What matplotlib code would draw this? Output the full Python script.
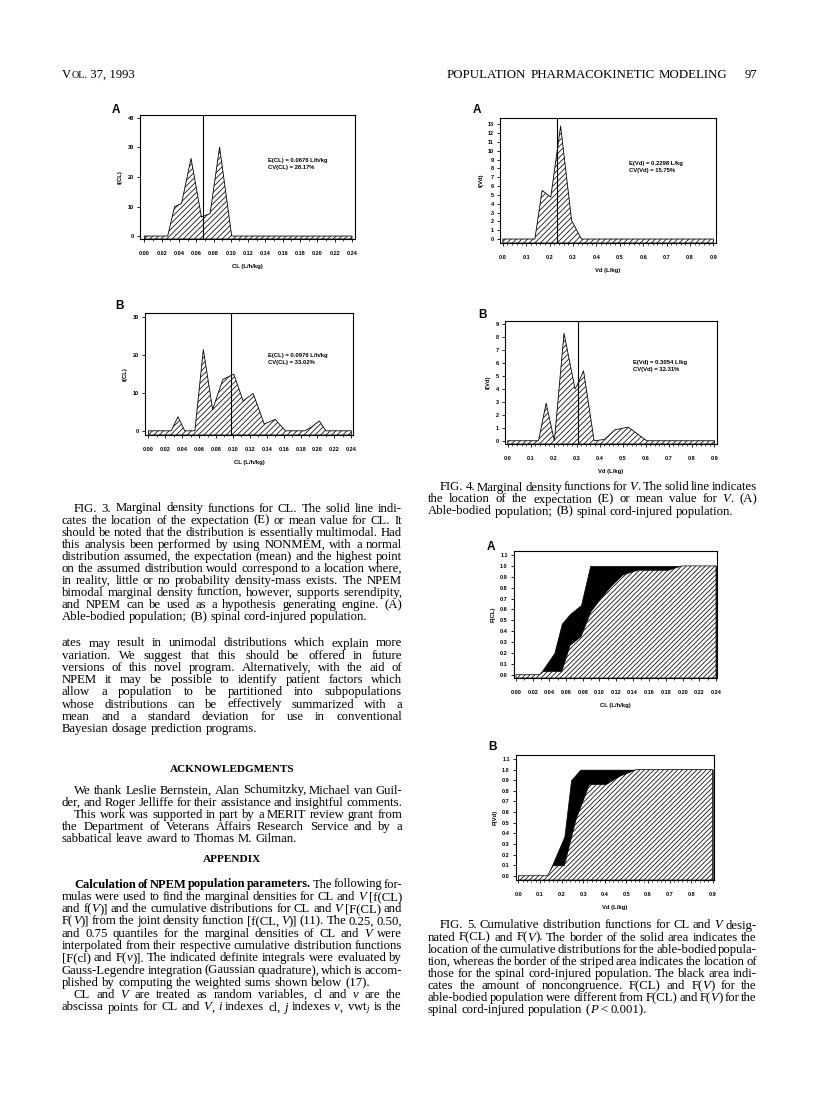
import matplotlib
matplotlib.use("Agg")
import matplotlib.pyplot as plt
from matplotlib.ticker import MultipleLocator, FormatStrFormatter

W, H = 816, 1093
SERIF = "Liberation Serif"
BODY = 9.2

# ---- Fig. 3: marginal density f(CL) ----
cl_able_x = [0.0, 0.027, 0.035, 0.043, 0.054, 0.066, 0.076, 0.087, 0.101, 0.24]
cl_able_f = [0.0, 0.0, 10.0, 11.0, 26.3, 6.5, 7.6, 30.1, 0.0, 0.0]
cl_sci_x = [0.0, 0.027, 0.035, 0.043, 0.055, 0.065, 0.076, 0.088, 0.101, 0.112,
            0.124, 0.137, 0.150, 0.162, 0.185, 0.193, 0.202, 0.210, 0.24]
cl_sci_f = [0.0, 0.0, 3.7, 0.0, 0.0, 21.4, 5.6, 13.5, 14.9, 7.9,
            9.8, 1.8, 3.0, 0.0, 0.0, 1.0, 2.6, 0.0, 0.0]
mean_cl_able, cv_cl_able = 0.0676, 28.17
mean_cl_sci, cv_cl_sci = 0.0976, 33.02

# ---- Fig. 4: marginal density f(Vd) ----
vd_able_x = [0.0, 0.137, 0.168, 0.205, 0.247, 0.294, 0.336, 0.9]
vd_able_f = [0.0, 0.0, 5.5, 4.75, 12.8, 2.1, 0.0, 0.0]
vd_sci_x = [0.0, 0.134, 0.167, 0.203, 0.245, 0.293, 0.305, 0.330, 0.376,
            0.421, 0.467, 0.525, 0.605, 0.9]
vd_sci_f = [0.0, 0.0, 2.9, 0.0, 8.3, 4.0, 4.4, 5.4, 0.0,
            0.1, 0.85, 1.05, 0.0, 0.0]
mean_vd_able, cv_vd_able = 0.2298, 15.75
mean_vd_sci, cv_vd_sci = 0.3054, 32.31

# ---- Fig. 5: cumulative distributions ----
cdf_cl_able_x = [0.0, 0.028, 0.046, 0.055, 0.065, 0.078, 0.089, 0.24]
cdf_cl_able_F = [0.0, 0.0, 0.20, 0.47, 0.56, 0.64, 1.0, 1.0]
cdf_cl_sci_x = [0.0, 0.028, 0.033, 0.055, 0.065, 0.078, 0.090, 0.102, 0.114,
                0.128, 0.146, 0.183, 0.199, 0.24]
cdf_cl_sci_F = [0.0, 0.0, 0.03, 0.03, 0.27, 0.35, 0.58, 0.70, 0.81,
                0.915, 0.96, 0.96, 1.0, 1.0]
cdf_vd_able_x = [0.0, 0.135, 0.213, 0.244, 0.287, 0.9]
cdf_vd_able_F = [0.0, 0.0, 0.37, 0.90, 1.0, 1.0]
cdf_vd_sci_x = [0.0, 0.135, 0.161, 0.213, 0.267, 0.329, 0.407, 0.469, 0.546, 0.9]
cdf_vd_sci_F = [0.0, 0.0, 0.094, 0.094, 0.53, 0.86, 0.86, 0.937, 1.0, 1.0]

# italic pieces are wrapped in |...|
IV, Iv, Ii, Ij, IP = "|V|", "|v|", "|i|", "|j|", "|P|"

fig3_caption = [
    "FIG. 3. Marginal density functions for CL. The solid line indi-",
    "cates the location of the expectation (E) or mean value for CL. It",
    "should be noted that the distribution is essentially multimodal. Had",
    "this analysis been performed by using NONMEM, with a normal",
    "distribution assumed, the expectation (mean) and the highest point",
    "on the assumed distribution would correspond to a location where,",
    "in reality, little or no probability density-mass exists. The NPEM",
    "bimodal marginal density function, however, supports serendipity,",
    "and NPEM can be used as a hypothesis generating engine. (A)",
    "Able-bodied population; (B) spinal cord-injured population.",
]
body_lines = [
    "ates may result in unimodal distributions which explain more",
    "variation. We suggest that this should be offered in future",
    "versions of this novel program. Alternatively, with the aid of",
    "NPEM it may be possible to identify patient factors which",
    "allow a population to be partitioned into subpopulations",
    "whose distributions can be effectively summarized with a",
    "mean and a standard deviation for use in conventional",
    "Bayesian dosage prediction programs.",
]
ack_lines = [
    "We thank Leslie Bernstein, Alan Schumitzky, Michael van Guil-",
    "der, and Roger Jelliffe for their assistance and insightful comments.",
    "This work was supported in part by a MERIT review grant from",
    "the Department of Veterans Affairs Research Service and by a",
    "sabbatical leave award to Thomas M. Gilman.",
]
appendix_lines = [
    "Calculation of NPEM population parameters. The following for-",
    f"mulas were used to find the marginal densities for CL and {IV} [f(CL)",
    f"and f({IV})] and the cumulative distributions for CL and {IV} [F(CL) and",
    f"F({IV})] from the joint density function [f(CL, {IV})] (11). The 0.25, 0.50,",
    f"and 0.75 quantiles for the marginal densities of CL and {IV} were",
    "interpolated from their respective cumulative distribution functions",
    f"[F(cl) and F({Iv})]. The indicated definite integrals were evaluated by",
    "Gauss-Legendre integration (Gaussian quadrature), which is accom-",
    "plished by computing the weighted sums shown below (17).",
    f"CL and {IV} are treated as random variables, cl and {Iv} are the",
    f"abscissa points for CL and {IV}, {Ii} indexes cl, {Ij} indexes {Iv}, vwt$_j$ is the",
]
fig4_caption = [
    f"FIG. 4. Marginal density functions for {IV}. The solid line indicates",
    f"the location of the expectation (E) or mean value for {IV}. (A)",
    "Able-bodied population; (B) spinal cord-injured population.",
]
fig5_caption = [
    f"FIG. 5. Cumulative distribution functions for CL and {IV} desig-",
    f"nated F(CL) and F({IV}). The border of the solid area indicates the",
    "location of the cumulative distributions for the able-bodied popula-",
    "tion, whereas the border of the striped area indicates the location of",
    "those for the spinal cord-injured population. The black area indi-",
    f"cates the amount of noncongruence. F(CL) and F({IV}) for the",
    f"able-bodied population were different from F(CL) and F({IV}) for the",
    f"spinal cord-injured population ({IP} < 0.001).",
]

plt.rcParams.update({
    "font.family": "Liberation Sans",
    "font.weight": "bold",
    "mathtext.fontset": "custom",
    "mathtext.rm": "Liberation Serif:style=normal:weight=normal",
    "mathtext.it": "Liberation Serif:style=italic:weight=normal",
    "mathtext.bf": "Liberation Serif:style=normal:weight=bold",
    "hatch.linewidth": 0.55,
    "axes.linewidth": 0.8,
})

fig = plt.figure(figsize=(W / 100, H / 100), dpi=100)
fig.patch.set_facecolor("white")
renderer = fig.canvas.get_renderer()


def px_axes(l, t, r, b):
    return fig.add_axes([l / W, 1 - b / H, (r - l) / W, (b - t) / H])


def put(x, y, s, **kw):
    # pixel coordinates, y measured downward from the top of the page
    return fig.text(x / W, 1 - y / H, s, **kw)


def make_word(word, yb, sz, bold):
    arts = []
    for i, piece in enumerate(word.split("|")):
        if piece:
            arts.append(put(0, yb, piece, family=SERIF, size=sz, va="baseline",
                            weight="bold" if bold else "normal",
                            style="italic" if i % 2 else "normal"))
    return arts


def justify(line, x0, x1, yc, indent=0, last=False, nbold=0, size=BODY):
    words = line.split()
    start = x0 + indent
    sz = size
    while True:
        groups = [make_word(w, yc + 3.5, sz, i < nbold) for i, w in enumerate(words)]
        widths = [[a.get_window_extent(renderer).width for a in g] for g in groups]
        total = sum(sum(w) for w in widths)
        if last or len(words) < 2:
            gap = sz * 0.25 * 100 / 72
            break
        gap = (x1 - start - total) / (len(words) - 1)
        if gap >= 1.3 or sz < size - 0.5:
            break
        for g in groups:
            for a in g:
                a.remove()
        sz -= 0.1
    x = start
    for g, ws in zip(groups, widths):
        for a, w in zip(g, ws):
            a.set_x(x / W)
            x += w
        x += gap


def block(lines, x0, x1, y0, step, indent_rows=(), last_rows=(), bold_first=None):
    for k, ln in enumerate(lines):
        nb = bold_first[1] if bold_first and bold_first[0] == k else 0
        justify(ln, x0, x1, y0 + k * step, indent=12 if k in indent_rows else 0,
                last=k in last_rows, nbold=nb)


def style(ax, xlim, ylim, xmaj, xmin, xfmt, ymaj, yfmt, xlabel, ylabel):
    ax.set_xlim(*xlim)
    ax.set_ylim(*ylim)
    ax.xaxis.set_major_locator(MultipleLocator(xmaj))
    ax.xaxis.set_minor_locator(MultipleLocator(xmin))
    ax.xaxis.set_major_formatter(FormatStrFormatter(xfmt))
    ax.yaxis.set_major_locator(MultipleLocator(ymaj))
    ax.yaxis.set_major_formatter(FormatStrFormatter(yfmt))
    ax.tick_params(axis="x", which="major", direction="out", length=2.5, width=0.6,
                   labelsize=4, pad=6)
    ax.tick_params(axis="x", which="minor", direction="out", length=1.5, width=0.5)
    ax.tick_params(axis="y", direction="out", length=2.5, width=0.6, labelsize=4, pad=2)
    ax.set_xlabel(xlabel, fontsize=4.2, fontweight="bold", labelpad=6)
    ax.set_ylabel(ylabel, fontsize=4.2, fontweight="bold", labelpad=3)


def density_panel(box, x, f, mean, xlim, ylim, xmaj, xmin, xfmt, ymaj,
                  xlabel, ylabel, note, note_px, letter, letter_px):
    ax = px_axes(*box)
    ax.fill_between(x, f, ylim[0], facecolor="white", edgecolor="black",
                    hatch="//////", linewidth=0.6)
    ax.axvline(mean, color="black", lw=0.8)
    style(ax, xlim, ylim, xmaj, xmin, xfmt, ymaj, "%d", xlabel, ylabel)
    put(note_px[0], note_px[1], note, fontsize=4.2, fontweight="bold",
        va="center", linespacing=1.3)
    put(letter_px[0], letter_px[1], letter, fontsize=8.5, fontweight="bold", va="center")
    return ax


def cdf_panel(box, ax_, aF, sx, sF, xlim, ylim, xmaj, xmin, xfmt,
              xlabel, ylabel, letter, letter_px):
    ax = px_axes(*box)
    ax.fill_between(ax_, aF, ylim[0], color="black", linewidth=0.5)
    ax.fill_between(sx, sF, ylim[0], facecolor="white", edgecolor="black",
                    hatch="///////", linewidth=0.5)
    style(ax, xlim, ylim, xmaj, xmin, xfmt, 0.1, "%.1f", xlabel, ylabel)
    put(letter_px[0], letter_px[1], letter, fontsize=8.5, fontweight="bold", va="center")
    return ax


# ---- Figure 3 ----
density_panel((140, 115, 355, 239), cl_able_x, cl_able_f, mean_cl_able,
              (-0.005, 0.2435), (-1.0, 41.0), 0.02, 0.01, "%.2f", 10,
              "CL (L/h/kg)", "f(CL)",
              f"E(CL) = {mean_cl_able:.4f} L/h/kg\nCV(CL) = {cv_cl_able:.2f}%",
              (268, 164), "A", (112, 110))
density_panel((145, 313, 353, 435), cl_sci_x, cl_sci_f, mean_cl_sci,
              (-0.004, 0.242), (-1.1, 31.0), 0.02, 0.01, "%.2f", 10,
              "CL (L/h/kg)", "f(CL)",
              f"E(CL) = {mean_cl_sci:.4f} L/h/kg\nCV(CL) = {cv_cl_sci:.2f}%",
              (268, 359), "B", (115, 306))

# ---- Figure 4 ----
density_panel((500, 118, 716, 243), vd_able_x, vd_able_f, mean_vd_able,
              (-0.012, 0.911), (-0.45, 13.7), 0.1, 0.02, "%.1f", 1,
              "Vd (L/kg)", "f(Vd)",
              f"E(Vd) = {mean_vd_able:.4f} L/kg\nCV(Vd) = {cv_vd_able:.2f}%",
              (629, 167), "A", (473, 110))
density_panel((505, 321, 717, 444), vd_sci_x, vd_sci_f, mean_vd_sci,
              (-0.012, 0.911), (-0.25, 9.25), 0.1, 0.02, "%.1f", 1,
              "Vd (L/kg)", "f(Vd)",
              f"E(Vd) = {mean_vd_sci:.4f} L/kg\nCV(Vd) = {cv_vd_sci:.2f}%",
              (633, 366), "B", (478, 315))

# ---- Figure 5 ----
cdf_panel((514, 551, 717, 678), cdf_cl_able_x, cdf_cl_able_F, cdf_cl_sci_x, cdf_cl_sci_F,
          (-0.0024, 0.2412), (-0.03, 1.137), 0.02, 0.01, "%.2f",
          "CL (L/h/kg)", "F(CL)", "A", (487, 547))
cdf_panel((516, 755, 714, 880), cdf_vd_able_x, cdf_vd_able_F, cdf_vd_sci_x, cdf_vd_sci_F,
          (-0.011, 0.906), (-0.04, 1.138), 0.1, 0.02, "%.1f",
          "Vd (L/kg)", "F(Vd)", "B", (488, 747))

# ---- running heads ----
x = 62
for piece, sz in (("V", 9.2), ("OL.", 7.4), (" 37, 1993", 9.2)):
    t = put(x, 77.5, piece, family=SERIF, size=sz, weight="normal", va="baseline")
    x += t.get_window_extent(renderer).width
justify("POPULATION PHARMACOKINETIC MODELING", 447, 727, 74, size=9.3)
put(757, 77.5, "97", family=SERIF, size=9.2, weight="normal", va="baseline", ha="right")

# ---- left column text ----
LX0, LX1 = 62, 402
block(fig3_caption, LX0, LX1, 508, 12.1, indent_rows=(0,), last_rows=(9,))
block(body_lines, LX0, LX1, 643, 12.2, last_rows=(7,))
put((LX0 + LX1) / 2, 769 + 3.5, "ACKNOWLEDGMENTS", family=SERIF, size=8.1,
    weight="bold", ha="center", va="baseline")
block(ack_lines, LX0, LX1, 790, 12.1, indent_rows=(0, 2), last_rows=(4,))
put((LX0 + LX1) / 2, 859 + 3.5, "APPENDIX", family=SERIF, size=8.1,
    weight="bold", ha="center", va="baseline")
block(appendix_lines, LX0, LX1, 884, 12.3, indent_rows=(0, 9), last_rows=(8,),
      bold_first=(0, 5))

# ---- right column text ----
RX0, RX1 = 428, 757
block(fig4_caption, RX0, RX1, 487, 12.0, indent_rows=(0,), last_rows=(2,))
block(fig5_caption, RX0, RX1, 925, 12.1, indent_rows=(0,), last_rows=(7,))

fig.savefig("out.png", dpi=100, facecolor="white")
